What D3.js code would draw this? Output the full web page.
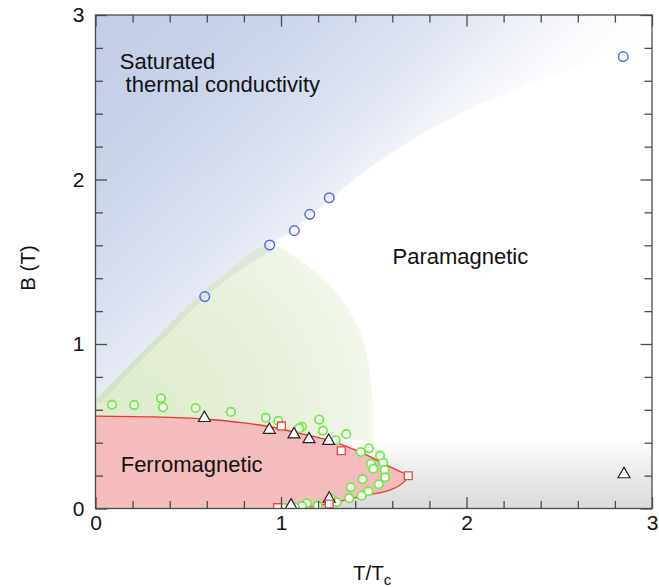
<!DOCTYPE html>
<html>
<head>
<meta charset="utf-8">
<script src="https://cdn.jsdelivr.net/npm/d3@7"></script>
<style>
  body { margin: 0; background: #fff; }
  svg { display: block; }
  text { font-family: "Liberation Sans", Arial, Helvetica, sans-serif; fill: #111; }
</style>
</head>
<body>
<svg id="chart" width="659" height="587"></svg>
<script>
// ---- axis ticks ----
const xTicks = [0, 1, 2, 3];
const yTicks = [0, 1, 2, 3];
const minorStep = 0.2;

// ---- measured points (T/Tc, B in tesla) ----
// onset of saturated thermal conductivity
const saturationPoints = [
  [0.589, 1.288], [0.939, 1.602], [1.072, 1.689], [1.155, 1.788], [1.260, 1.889], [2.845, 2.747]
];
// crossover field points
const crossoverPoints = [
  [0.089, 0.631], [0.209, 0.629], [0.353, 0.670], [0.364, 0.615], [0.540, 0.611],
  [0.730, 0.587], [0.918, 0.552], [0.985, 0.532], [1.113, 0.497], [1.099, 0.488],
  [1.206, 0.540], [1.226, 0.473], [1.352, 0.453], [1.295, 0.415], [1.430, 0.343],
  [1.474, 0.366], [1.534, 0.321], [1.484, 0.272], [1.498, 0.242], [1.551, 0.278],
  [1.559, 0.234], [1.561, 0.190], [1.440, 0.178], [1.527, 0.147], [1.376, 0.129],
  [1.471, 0.105], [1.435, 0.078], [1.368, 0.062], [1.300, 0.038], [1.268, 0.062],
  [1.198, 0.017], [1.139, 0.032], [1.113, 0.015], [1.018, 0.004], [1.075, 0.006]
];
// magnetization transition points
const transitionPoints = [
  [0.587, 0.550], [0.937, 0.478], [1.070, 0.450], [1.151, 0.421], [1.257, 0.411],
  [1.054, 0.018], [1.260, 0.060], [2.849, 0.208]
];
// specific-heat anomaly points
const heatPoints = [
  [1.002, 0.502], [1.325, 0.351], [1.686, 0.199], [1.260, 0.027], [0.982, 0.005]
];

// ---- phase boundaries ----
const ferroUpper = [
  [0, 0.562], [0.3, 0.557], [0.587, 0.544], [0.8, 0.52], [0.941, 0.497], [1.102, 0.457],
  [1.282, 0.406], [1.462, 0.325], [1.57, 0.264], [1.642, 0.224], [1.686, 0.199]
];
const ferroLower = [
  [1.642, 0.143], [1.57, 0.106], [1.462, 0.082], [1.372, 0.058], [1.282, 0.035],
  [1.192, 0.015], [1.1, 0.005], [1.0, 0]
];
const saturationEdge = [
  [0, 0.66], [0.17, 0.862], [0.35, 1.065], [0.53, 1.267], [0.71, 1.44], [0.939, 1.602],
  [1.07, 1.70], [1.16, 1.785], [1.26, 1.875], [1.462, 2.058], [1.72, 2.25], [2.0, 2.42],
  [2.27, 2.55], [2.54, 2.666], [2.9, 2.83], [3.0, 2.87]
];
const crossoverArc = [
  [1.14, 1.475], [1.25, 1.375], [1.34, 1.25], [1.43, 1.065], [1.475, 0.862], [1.494, 0.66]
];
const crossoverBase = [[1.494, 0.406], [1.2, 0.44], [0, 0.5]];
const grayTop = 0.42;

// ---- layout ----
const svg = d3.select("#chart");
const x = d3.scaleLinear().domain([0, 3]).range([95.5, 652]);
const y = d3.scaleLinear().domain([0, 3]).range([508.5, 15]);
const X0 = x(0), X1 = x(3), Y0 = y(0), Y1 = y(3);

const line = d3.line().x(d => x(d[0])).y(d => y(d[1])).curve(d3.curveCatmullRom.alpha(0.5));
const pts = arr => arr.map(d => `L${x(d[0])},${y(d[1])}`).join("");

const defs = svg.append("defs");
defs.append("clipPath").attr("id", "plotClip")
  .append("rect").attr("x", X0).attr("y", Y1).attr("width", X1 - X0).attr("height", Y0 - Y1);

// blue wash of the saturated region
const satGrad = defs.append("linearGradient").attr("id", "satGrad")
  .attr("gradientUnits", "userSpaceOnUse")
  .attr("x1", 96).attr("y1", 15).attr("x2", 372).attr("y2", 303);
[[0, "#c3cee7"], [0.3, "#c9d3ea"], [0.59, "#dde3f1"], [0.675, "#e5e9f4"],
 [0.75, "#eef1f8"], [0.875, "#fafbfd"], [1, "#ffffff"]]
  .forEach(s => satGrad.append("stop").attr("offset", s[0]).attr("stop-color", s[1]));

// green glow of the crossover region
const crossGrad = defs.append("radialGradient").attr("id", "crossGrad")
  .attr("gradientUnits", "userSpaceOnUse")
  .attr("cx", 130).attr("cy", 420).attr("r", 262);
[[0, "#deebcc"], [0.55, "#e7f0da"], [0.85, "#eff5e6"], [1, "#f5f8f0"]]
  .forEach(s => crossGrad.append("stop").attr("offset", s[0]).attr("stop-color", s[1]));

// grey shading near zero field
const grayGrad = defs.append("linearGradient").attr("id", "grayGrad")
  .attr("gradientUnits", "userSpaceOnUse")
  .attr("x1", 0).attr("y1", y(grayTop)).attr("x2", 0).attr("y2", Y0);
[[0, "#ffffff"], [0.35, "#f0f0f0"], [1, "#dadada"]]
  .forEach(s => grayGrad.append("stop").attr("offset", s[0]).attr("stop-color", s[1]));

const plot = svg.append("g").attr("clip-path", "url(#plotClip)");

plot.append("rect")
  .attr("x", X0).attr("y", y(grayTop)).attr("width", X1 - X0).attr("height", Y0 - y(grayTop))
  .attr("fill", "url(#grayGrad)");

// saturated region: above the edge
plot.append("path")
  .attr("d", line(saturationEdge) + `L${x(3)},${y(3) - 2}L${x(0)},${y(3) - 2}Z`)
  .attr("fill", "url(#satGrad)");

// crossover region: below the edge, bounded by the arc
const lowerEdge = saturationEdge.filter(d => d[0] <= 0.94);
const crossPath = line([...lowerEdge, ...crossoverArc]) + pts(crossoverBase) + "Z";
defs.append("clipPath").attr("id", "crossClip").append("path").attr("d", crossPath);
plot.append("path").attr("d", crossPath).attr("fill", "url(#crossGrad)");
plot.append("path")
  .attr("d", line(lowerEdge))
  .attr("clip-path", "url(#crossClip)")
  .attr("fill", "none")
  .attr("stroke", "#b8c8c0").attr("stroke-opacity", 0.28).attr("stroke-width", 12);

// ferromagnetic region
const ferroEdge = [...ferroUpper, ...ferroLower];
plot.append("path")
  .attr("d", line(ferroEdge) + `L${x(0)},${y(0)}Z`)
  .attr("fill", "#f4bcbc");
plot.append("path")
  .attr("d", line(ferroEdge))
  .attr("fill", "none").attr("stroke", "#e8392f").attr("stroke-width", 1.3);

// ---- markers ----
plot.append("g").selectAll("circle").data(crossoverPoints).join("circle")
  .attr("cx", d => x(d[0])).attr("cy", d => y(d[1])).attr("r", 4.2)
  .attr("fill", "#fff").attr("stroke", "#6ded45").attr("stroke-width", 1.8);

plot.append("g").selectAll("path").data(transitionPoints).join("path")
  .attr("transform", d => `translate(${x(d[0])},${y(d[1])})`)
  .attr("d", d3.symbol(d3.symbolTriangle, 62))
  .attr("fill", "#fff").attr("stroke", "#222").attr("stroke-width", 1.2);

plot.append("g").selectAll("path").data(heatPoints).join("path")
  .attr("transform", d => `translate(${x(d[0])},${y(d[1])})`)
  .attr("d", d3.symbol(d3.symbolSquare, 62))
  .attr("fill", "#fff").attr("stroke", "#e8463a").attr("stroke-width", 1.3);

plot.append("g").selectAll("circle").data(saturationPoints).join("circle")
  .attr("cx", d => x(d[0])).attr("cy", d => y(d[1])).attr("r", 4.8)
  .attr("fill", "none").attr("stroke", "#5566f2").attr("stroke-width", 1.5);

// ---- frame and ticks ----
const axisColor = "#4a4a4a";
const minorX = d3.range(0, 3.0001, minorStep).filter(v => Math.abs(v - Math.round(v)) > 1e-6);
const minorY = minorX;
const tickLen = 7.5, majorLen = 11.5;

function tickAxis(axisFn, scale, values, len, transform) {
  const g = svg.append("g").attr("transform", transform)
    .call(axisFn(scale).tickValues(values).tickSize(-len).tickFormat(""));
  g.select(".domain").remove();
  g.selectAll("line").attr("stroke", axisColor).attr("stroke-width", 1.3);
  return g;
}
tickAxis(d3.axisBottom, x, minorX, tickLen, `translate(0,${Y0})`);
tickAxis(d3.axisBottom, x, xTicks, majorLen, `translate(0,${Y0})`);
tickAxis(d3.axisTop, x, minorX, tickLen, `translate(0,${Y1})`);
tickAxis(d3.axisTop, x, xTicks, majorLen, `translate(0,${Y1})`);
tickAxis(d3.axisLeft, y, minorY, tickLen, `translate(${X0},0)`);
tickAxis(d3.axisLeft, y, yTicks, majorLen, `translate(${X0},0)`);
tickAxis(d3.axisRight, y, minorY, tickLen, `translate(${X1},0)`);
tickAxis(d3.axisRight, y, yTicks, majorLen, `translate(${X1},0)`);

svg.append("rect")
  .attr("x", X0).attr("y", Y1).attr("width", X1 - X0).attr("height", Y0 - Y1)
  .attr("fill", "none").attr("stroke", axisColor).attr("stroke-width", 1.3);

// tick labels
const xLab = svg.append("g").attr("transform", `translate(0,${Y0})`)
  .call(d3.axisBottom(x).tickValues(xTicks).tickSize(0).tickPadding(7).tickFormat(d3.format("d")));
xLab.select(".domain").remove();
const yLab = svg.append("g").attr("transform", `translate(${X0},0)`)
  .call(d3.axisLeft(y).tickValues(yTicks).tickSize(0).tickPadding(11).tickFormat(d3.format("d")));
yLab.select(".domain").remove();
[xLab, yLab].forEach(g => {
  g.attr("font-family", null).attr("font-size", null);
  g.selectAll("text").attr("font-size", 21).attr("fill", "#111");
});

// axis titles
svg.append("text")
  .attr("transform", "translate(35,268) rotate(-90)")
  .attr("text-anchor", "middle").attr("font-size", 20.5)
  .text("B (T)");
const xt = svg.append("text").attr("x", 353).attr("y", 580).attr("font-size", 20.5);
xt.append("tspan").text("T/T");
xt.append("tspan").attr("font-size", 15).attr("dy", 4.5).text("c");

// region labels
svg.append("text").attr("x", 119.8).attr("y", 69).attr("font-size", 22).text("Saturated");
svg.append("text").attr("x", 125.6).attr("y", 91.5).attr("font-size", 22).text("thermal conductivity");
svg.append("text").attr("x", 392.5).attr("y", 264).attr("font-size", 22).text("Paramagnetic");
svg.append("text").attr("x", 120.7).attr("y", 472).attr("font-size", 22).text("Ferromagnetic");
</script>
</body>
</html>
